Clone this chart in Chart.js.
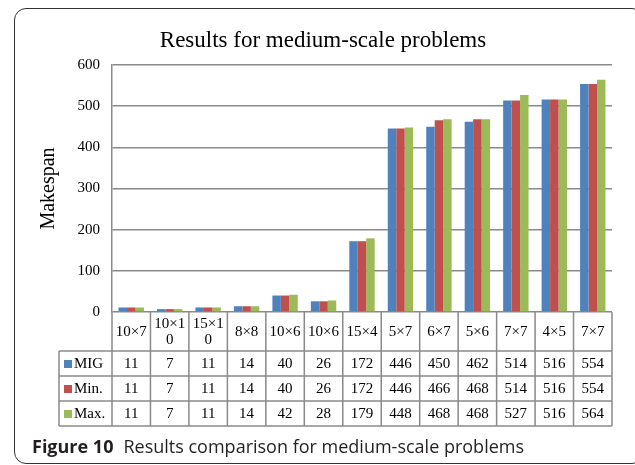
<!DOCTYPE html>
<html>
<head>
<meta charset="utf-8">
<script src="https://cdn.jsdelivr.net/npm/chart.js@4.4.0/dist/chart.umd.min.js"></script>
<style>
  html, body { margin: 0; padding: 0; background: #fff; }
  #wrap { position: relative; width: 635px; height: 465px; overflow: hidden; }
  #frame {
    position: absolute; left: 14px; top: 8px; width: 630px; height: 456px;
    border: 1.5px solid #333; border-radius: 12px; box-sizing: border-box;
  }
  #chart { position: absolute; left: 0; top: 0; }
  #caption {
    position: absolute; left: 32px; top: 434px;
    font-family: "Open Sans", "Noto Sans", sans-serif; font-size: 18px; color: #231f20;
    white-space: nowrap;
  }
  #caption b { font-weight: 700; margin-right: 10px; }
</style>
</head>
<body>
<div id="wrap">
  <div id="frame"></div>
  <canvas id="chart" width="635" height="465"></canvas>
  <div id="caption"><b>Figure 10</b>Results comparison for medium-scale problems</div>
</div>
<script>
// categorias (tamanho do problema) e valores de makespan
const CATEGORIAS = [['10×7'], ['10×1', '0'], ['15×1', '0'], ['8×8'], ['10×6'], ['10×6'], ['15×4'],
                    ['5×7'], ['6×7'], ['5×6'], ['7×7'], ['4×5'], ['7×7']];
const SERIES = ['MIG', 'Min.', 'Max.'];
const MIG = [11, 7, 11, 14, 40, 26, 172, 446, 450, 462, 514, 516, 554];
const MIN = [11, 7, 11, 14, 40, 26, 172, 446, 466, 468, 514, 516, 554];
const MAX = [11, 7, 11, 14, 42, 28, 179, 448, 468, 468, 527, 516, 564];
const Y_TICKS = [0, 100, 200, 300, 400, 500, 600];
const TITULO = 'Results for medium-scale problems';

const CORES = ['#4F81BD', '#C0504D', '#9BBB59'];
const SERIF = '"Liberation Serif", "Times New Roman", serif';
const LINHA = '#8a8a8a';

// titulo + tabela de dados abaixo do grafico
const tabelaPlugin = {
  id: 'tabela',
  afterDraw(chart) {
    const { ctx, chartArea: area, scales: { x } } = chart;
    const col = (area.right - area.left) / CATEGORIAS.length;
    const yCat = area.bottom, yRow1 = area.bottom + 39, rowH = 25;
    const yFim = yRow1 + rowH * SERIES.length;
    const xLeg = 59;

    ctx.save();
    ctx.fillStyle = '#000';
    ctx.font = `23px ${SERIF}`;
    ctx.textAlign = 'center';
    ctx.textBaseline = 'middle';
    ctx.fillText(TITULO, 323, 41);

    ctx.strokeStyle = LINHA;
    ctx.lineWidth = 1.5;
    ctx.beginPath();
    for (let i = 0; i <= CATEGORIAS.length; i++) {
      const xx = area.left + i * col;
      ctx.moveTo(xx, yCat); ctx.lineTo(xx, yFim);
    }
    ctx.moveTo(xLeg, yRow1); ctx.lineTo(xLeg, yFim);
    for (let r = 0; r <= SERIES.length; r++) {
      const yy = yRow1 + r * rowH;
      ctx.moveTo(xLeg, yy); ctx.lineTo(area.right, yy);
    }
    ctx.stroke();

    ctx.font = `15px ${SERIF}`;
    CATEGORIAS.forEach((lbl, i) => {
      const cx = x.getPixelForValue(i);
      const meio = (yCat + yRow1) / 2 + 1;
      if (lbl.length === 1) ctx.fillText(lbl[0], cx, meio);
      else { ctx.fillText(lbl[0], cx, meio - 8); ctx.fillText(lbl[1], cx, meio + 8); }
    });

    chart.data.datasets.forEach((ds, r) => {
      const cy = yRow1 + r * rowH + rowH / 2 + 1;
      ds.data.forEach((v, i) => ctx.fillText(String(v), x.getPixelForValue(i), cy));
      ctx.fillStyle = CORES[r];
      ctx.fillRect(xLeg + 5, cy - 4.5, 8, 8);
      ctx.fillStyle = '#000';
      ctx.textAlign = 'left';
      ctx.fillText(ds.label, xLeg + 15, cy);
      ctx.textAlign = 'center';
    });
    ctx.restore();
  }
};

new Chart(document.getElementById('chart'), {
  type: 'bar',
  data: {
    labels: CATEGORIAS,
    datasets: [MIG, MIN, MAX].map((d, i) => ({
      label: SERIES[i],
      data: d,
      backgroundColor: CORES[i],
      borderWidth: 0,
      barPercentage: 1,
      categoryPercentage: 0.66
    }))
  },
  options: {
    responsive: false,
    animation: false,
    devicePixelRatio: 1,
    layout: { padding: { left: 0, right: 23, top: 65, bottom: 153 } },
    plugins: {
      legend: { display: false },
      tooltip: { enabled: false },
      title: { display: false }
    },
    scales: {
      x: { display: false },
      y: {
        min: 0, max: 600,
        afterBuildTicks: s => { s.ticks = Y_TICKS.map(v => ({ value: v })); },
        afterFit: s => { s.width = 112; },
        ticks: { color: '#000', font: { family: SERIF, size: 15 }, padding: 12 },
        grid: { color: LINHA, lineWidth: 1.5, drawTicks: false },
        border: { color: LINHA, width: 1.5 },
        title: {
          display: true, text: 'Makespan', color: '#000',
          font: { family: SERIF, size: 20, weight: 'normal' },
          padding: { top: 37, bottom: 0 }
        }
      }
    }
  },
  plugins: [tabelaPlugin]
});
</script>
</body>
</html>
